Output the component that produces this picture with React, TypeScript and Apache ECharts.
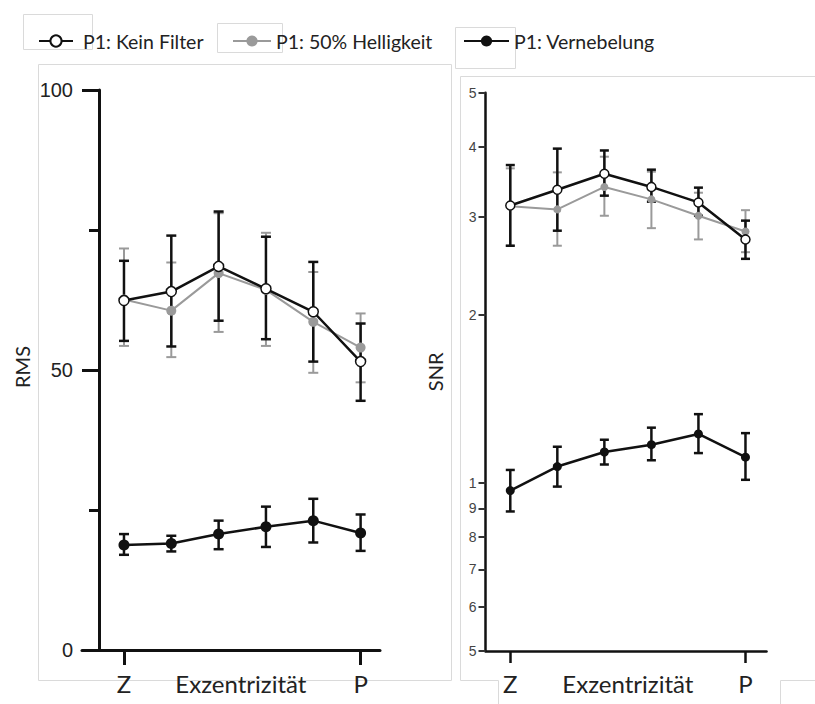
import React, { useEffect, useRef } from 'react';
import * as echarts from 'echarts';

// ---------- data ----------
const seriesNames = ['P1: Kein Filter', 'P1: 50% Helligkeit', 'P1: Vernebelung'];
const xPositions = [0, 1, 2, 3, 4, 5];
const xTickValues = [0, 5];
const xTickLabels = ['Z', 'P'];
const xAxisTitle = 'Exzentrizität';

// RMS (left panel)
const rmsKeinMean = [62.4, 64.0, 68.5, 64.5, 60.4, 51.5];
const rmsKeinLow = [55.2, 54.2, 58.8, 55.5, 51.5, 44.5];
const rmsKeinHigh = [69.5, 74.0, 78.3, 73.8, 69.3, 58.3];
const rmsHellMean = [62.6, 60.6, 67.3, 64.3, 58.6, 54.0];
const rmsHellLow = [54.3, 52.3, 56.8, 54.3, 49.5, 47.8];
const rmsHellHigh = [71.7, 69.2, 78.0, 74.5, 67.5, 60.1];
const rmsNebelMean = [18.75, 19.0, 20.7, 22.0, 23.1, 20.9];
const rmsNebelLow = [17.0, 17.6, 18.0, 18.4, 19.2, 17.7];
const rmsNebelHigh = [20.7, 20.4, 23.1, 25.6, 27.0, 24.2];
const rmsTicks = [0, 50, 100];

// SNR (right panel, log scale)
const snrKeinMean = [3.14, 3.35, 3.58, 3.39, 3.18, 2.73];
const snrKeinLow = [2.66, 2.83, 3.27, 3.19, 3.01, 2.52];
const snrKeinHigh = [3.71, 3.97, 3.94, 3.64, 3.38, 2.95];
const snrHellMean = [3.13, 3.09, 3.39, 3.22, 3.01, 2.82];
const snrHellLow = [2.66, 2.66, 3.01, 2.86, 2.73, 2.59];
const snrHellHigh = [3.66, 3.60, 3.84, 3.61, 3.31, 3.08];
const snrNebelMean = [0.969, 1.07, 1.136, 1.171, 1.224, 1.112];
const snrNebelLow = [0.889, 0.985, 1.079, 1.098, 1.131, 1.013];
const snrNebelHigh = [1.055, 1.161, 1.195, 1.256, 1.328, 1.228];
const snrTicks = [0.5, 0.6, 0.7, 0.8, 0.9, 1, 2, 3, 4, 5];

// ---------- helpers ----------
const BLACK = '#111';
const GRAY = '#9a9a9a';
const BOX = '#dadada';

function errorBarSeries(name: string, idx: number, low: number[], high: number[], color: string, width: number, cap: number) {
  return {
    type: 'custom',
    name,
    xAxisIndex: idx,
    yAxisIndex: idx,
    encode: { x: 0, y: [1, 2] },
    data: xPositions.map((x, i) => [x, low[i], high[i]]),
    renderItem: (params: any, api: any) => {
      const x = api.value(0);
      const lo = api.coord([x, api.value(1)]);
      const hi = api.coord([x, api.value(2)]);
      const style = { stroke: color, lineWidth: width };
      return {
        type: 'group',
        children: [
          { type: 'line', shape: { x1: lo[0], y1: lo[1], x2: hi[0], y2: hi[1] }, style },
          { type: 'line', shape: { x1: lo[0] - cap, y1: lo[1], x2: lo[0] + cap, y2: lo[1] }, style },
          { type: 'line', shape: { x1: hi[0] - cap, y1: hi[1], x2: hi[0] + cap, y2: hi[1] }, style },
        ],
      };
    },
    z: 2,
  };
}

function lineSeries(name: string, idx: number, mean: number[], kind: 'open' | 'gray' | 'filled', size: number) {
  const color = kind === 'gray' ? GRAY : BLACK;
  return {
    type: 'line',
    name,
    xAxisIndex: idx,
    yAxisIndex: idx,
    data: xPositions.map((x, i) => [x, mean[i]]),
    symbol: 'circle',
    symbolSize: size,
    showSymbol: true,
    color,
    lineStyle: { color, width: kind === 'gray' ? 2 : 2.5 },
    itemStyle:
      kind === 'open'
        ? { color: '#ffffff', borderColor: BLACK, borderWidth: 1.5 }
        : { color, borderColor: color, borderWidth: 0 },
    z: 2,
  };
}

const xLabelFormatter = (v: number) => {
  const k = xTickValues.indexOf(Math.round(v * 100) / 100);
  return k >= 0 ? xTickLabels[k] : xAxisTitle;
};

const LABEL_FONT = 'Lato, "Open Sans", sans-serif';

export default function App() {
  const ref = useRef<HTMLDivElement>(null);

  useEffect(() => {
    if (!ref.current) return;
    const chart = echarts.init(ref.current, undefined, { renderer: 'svg' });

    const boxLine = (x1: number, y1: number, x2: number, y2: number) => ({
      type: 'line',
      silent: true,
      z: -10,
      shape: { x1, y1, x2, y2 },
      style: { stroke: BOX, lineWidth: 1 },
    });
    const boxRect = (x: number, y: number, width: number, height: number) => ({
      type: 'rect',
      silent: true,
      z: -10,
      shape: { x, y, width, height },
      style: { stroke: BOX, fill: 'none', lineWidth: 1 },
    });

    const legendBase = (name: string, left: number, itemWidth: number, pad: number) => ({
      data: [name],
      left,
      top: 31,
      padding: 0,
      itemWidth,
      itemHeight: 14,
      selectedMode: false,
      textStyle: {
        fontFamily: LABEL_FONT,
        fontSize: 19.5,
        color: '#222',
        padding: [0, 0, 0, pad],
      },
    });

    const option: any = {
      animation: false,
      backgroundColor: '#ffffff',
      textStyle: { fontFamily: '"Liberation Sans", Arial, sans-serif' },
      legend: [
        legendBase(seriesNames[0], 38, 34, 5),
        legendBase(seriesNames[1], 232, 38, 0),
        legendBase(seriesNames[2], 463, 45, 0),
      ],
      graphic: [
        boxRect(23.5, 14.5, 69, 35),
        boxRect(217.5, 23.5, 65, 29),
        boxRect(455.5, 27.5, 60, 41),
        boxRect(38.5, 64.5, 413, 616),
        boxLine(460.5, 76.5, 815, 76.5),
        boxLine(460.5, 76.5, 460.5, 680.5),
        boxLine(460.5, 680.5, 498.5, 680.5),
        boxLine(498.5, 680.5, 498.5, 704),
        boxLine(780.5, 680.5, 815, 680.5),
        boxLine(780.5, 680.5, 780.5, 704),
      ],
      grid: [
        { left: 82, top: 90, width: 298, height: 560 },
        { left: 485.5, top: 92.7, width: 281, height: 558.3 },
      ],
      xAxis: [
        {
          type: 'value',
          gridIndex: 0,
          min: -0.887,
          max: 5.41,
          axisLine: { onZero: false, lineStyle: { color: BLACK, width: 3 } },
          axisTick: { customValues: xTickValues, length: 15, lineStyle: { color: BLACK, width: 3 } },
          axisLabel: {
            customValues: [0, 2.47, 5],
            formatter: xLabelFormatter,
            margin: 21,
            fontFamily: LABEL_FONT,
            fontSize: 24,
            color: '#222',
          },
          splitLine: { show: false },
        },
        {
          type: 'value',
          gridIndex: 1,
          min: -0.527,
          max: 5.447,
          axisLine: { onZero: false, lineStyle: { color: BLACK, width: 2.5 } },
          axisTick: { customValues: xTickValues, length: 12, lineStyle: { color: BLACK, width: 2.5 } },
          axisLabel: {
            customValues: [0, 2.5, 5],
            formatter: xLabelFormatter,
            margin: 20,
            fontFamily: LABEL_FONT,
            fontSize: 24,
            color: '#222',
          },
          splitLine: { show: false },
        },
      ],
      yAxis: [
        {
          type: 'value',
          gridIndex: 0,
          min: rmsTicks[0],
          max: rmsTicks[rmsTicks.length - 1],
          interval: 50,
          offset: -17,
          name: 'RMS',
          nameLocation: 'middle',
          nameGap: 67,
          nameTextStyle: { fontFamily: LABEL_FONT, fontSize: 20, color: '#222', padding: [0, 0, 0, 6] },
          axisLine: { show: true, onZero: false, lineStyle: { color: BLACK, width: 3 } },
          axisTick: { show: true, length: 17, lineStyle: { color: BLACK, width: 3 } },
          minorTick: { show: true, splitNumber: 2, length: 10, lineStyle: { color: BLACK, width: 3 } },
          axisLabel: { margin: 26, fontSize: 20, color: '#222', fontFamily: '"Liberation Sans", Arial, sans-serif' },
          splitLine: { show: false },
          minorSplitLine: { show: false },
        },
        {
          type: 'log',
          logBase: 10,
          gridIndex: 1,
          min: snrTicks[0],
          max: snrTicks[snrTicks.length - 1],
          name: 'SNR',
          nameLocation: 'middle',
          nameGap: 41,
          nameTextStyle: { fontFamily: LABEL_FONT, fontSize: 20, color: '#222' },
          axisLine: { show: true, onZero: false, lineStyle: { color: BLACK, width: 2.5 } },
          axisTick: { show: true, customValues: snrTicks, length: 7, lineStyle: { color: '#333', width: 2 } },
          minorTick: { show: false },
          axisLabel: {
            customValues: snrTicks,
            formatter: (v: number) => (v < 0.95 ? String(Math.round(v * 10)) : String(Math.round(v))),
            margin: 9,
            fontSize: 14,
            color: '#444',
            fontFamily: '"Liberation Sans", Arial, sans-serif',
          },
          splitLine: { show: false },
          minorSplitLine: { show: false },
        },
      ],
      series: [
        // left panel: RMS
        errorBarSeries('eb-rms-hell', 0, rmsHellLow, rmsHellHigh, GRAY, 2, 5),
        lineSeries(seriesNames[1], 0, rmsHellMean, 'gray', 10),
        errorBarSeries('eb-rms-kein', 0, rmsKeinLow, rmsKeinHigh, BLACK, 2.5, 5),
        lineSeries(seriesNames[0], 0, rmsKeinMean, 'open', 10),
        errorBarSeries('eb-rms-nebel', 0, rmsNebelLow, rmsNebelHigh, BLACK, 2.5, 5),
        lineSeries(seriesNames[2], 0, rmsNebelMean, 'filled', 11),
        // right panel: SNR
        errorBarSeries('eb-snr-hell', 1, snrHellLow, snrHellHigh, GRAY, 2, 4.5),
        lineSeries(seriesNames[1], 1, snrHellMean, 'gray', 8),
        errorBarSeries('eb-snr-kein', 1, snrKeinLow, snrKeinHigh, BLACK, 2.5, 4.5),
        lineSeries(seriesNames[0], 1, snrKeinMean, 'open', 9),
        errorBarSeries('eb-snr-nebel', 1, snrNebelLow, snrNebelHigh, BLACK, 2.5, 4.5),
        lineSeries(seriesNames[2], 1, snrNebelMean, 'filled', 9),
      ],
    };

    chart.setOption(option);
    return () => chart.dispose();
  }, []);

  return (
    <div
      ref={ref}
      style={{ position: 'absolute', left: 0, top: 0, width: 815, height: 704, background: '#fff' }}
    />
  );
}
